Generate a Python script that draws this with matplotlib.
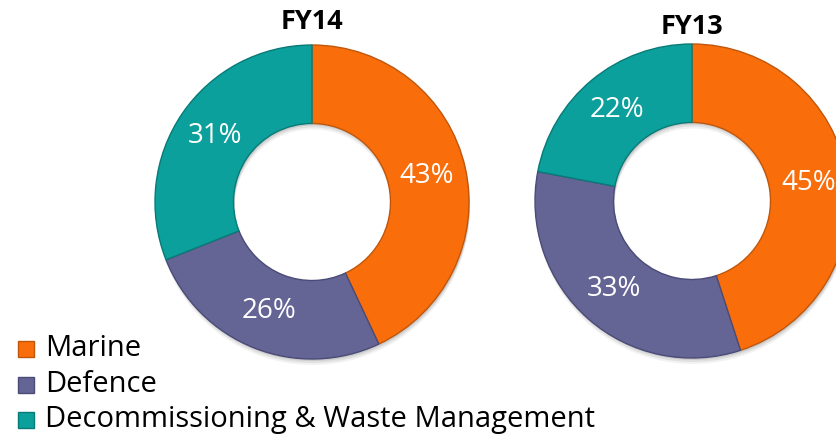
import matplotlib
matplotlib.use("Agg")
import matplotlib.pyplot as plt
from matplotlib.patches import Rectangle

categories = ["Marine", "Defence", "Decommissioning & Waste Management"]
fy14_values = [43, 26, 31]
fy13_values = [45, 33, 22]
titles = ["FY14", "FY13"]
colors = ["#F96E0B", "#646495", "#0CA09C"]
edge_colors = ["#C0560A", "#4B4B78", "#087A77"]

W, H = 837, 444
fig = plt.figure(figsize=(W / 100, H / 100), dpi=100)
ax = fig.add_axes([0, 0, 1, 1])
ax.set_xlim(0, W)
ax.set_ylim(0, H)
ax.set_aspect("equal")
ax.axis("off")

font = "Open Sans"
R = 157
centers = [(312, H - 202), (692, H - 201)]
title_y = [H - 22, H - 27]

for vals, (cx, cy), title, ty in zip([fy14_values, fy13_values], centers, titles, title_y):
    # soft shadow
    for k, a in zip([6, 4, 2], [0.05, 0.07, 0.09]):
        ax.pie(vals, startangle=90, counterclock=False, center=(cx + 1, cy - k), radius=R,
               colors=["#000000"] * 3, wedgeprops=dict(width=R * 0.5, alpha=a, linewidth=0))
    wedges, texts, autotexts = ax.pie(
        vals, startangle=90, counterclock=False, center=(cx, cy), radius=R,
        colors=colors, autopct="%d%%", pctdistance=0.75,
        wedgeprops=dict(width=R * 0.5, linewidth=1.0),
        textprops=dict(color="white", fontsize=20, family=font))
    for w, ec in zip(wedges, edge_colors):
        w.set_edgecolor(ec)
    ax.text(cx, ty, title, ha="center", va="center", fontsize=19.5, fontweight="bold",
            family=font, color="black")

ax.set_xlim(0, W)
ax.set_ylim(0, H)

leg_y = [H - 349, H - 385, H - 420]
for cat, col, ec, y in zip(categories, colors, edge_colors, leg_y):
    ax.add_patch(Rectangle((18, y - 8), 16, 16, facecolor=col, edgecolor=ec, linewidth=1))
    ax.text(45, y, cat, ha="left", va="center", fontsize=21, family=font, color="black")

fig.savefig("out.png", dpi=100)
